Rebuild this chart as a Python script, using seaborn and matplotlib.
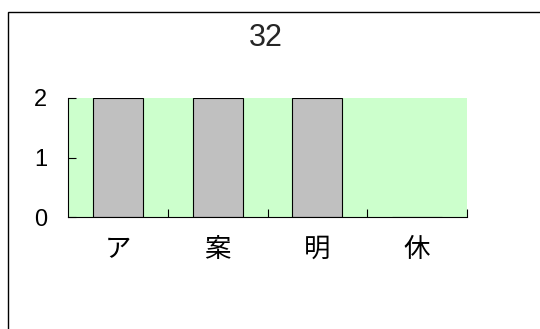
import matplotlib
import seaborn as sns
from matplotlib.patches import Rectangle

matplotlib.use("Agg")
import matplotlib.pyplot as plt

# データ
categories = ["ア", "案", "明", "休"]
values = [2, 2, 2, 0]
title = "32"
y_ticks = [0, 1, 2]

sns.set_theme(style="white")
plt.rcParams["font.family"] = ["Liberation Sans", "Noto Sans CJK JP", "DejaVu Sans"]

fig = plt.figure(figsize=(5.4, 3.29), dpi=100)
ax = fig.add_axes([68 / 540, 112 / 329, 399 / 540, 119 / 329])
ax.set_facecolor("#CCFFCC")

sns.barplot(x=categories, y=values, color="#C0C0C0", saturation=1,
            edgecolor="black", linewidth=0.8, width=0.5, ax=ax)

ax.set_xlim(-0.5, len(categories) - 0.5)
ax.set_ylim(0, 2)
ax.set_yticks(y_ticks)
ax.tick_params(axis="y", direction="in", length=6, width=0.8, color="black",
               labelsize=17, pad=15, left=True, labelcolor="black")
ax.tick_params(axis="x", which="major", length=0, labelsize=19, pad=15,
               labelcolor="black")
ax.set_xticks([i + 0.5 for i in range(len(categories))], minor=True)
ax.tick_params(axis="x", which="minor", direction="in", length=6, width=0.8,
               color="black", bottom=True)
ax.set_xlabel("")
ax.set_ylabel("")

for side in ["top", "right"]:
    ax.spines[side].set_visible(False)
for side in ["left", "bottom"]:
    ax.spines[side].set_color("black")
    ax.spines[side].set_linewidth(0.8)

fig.text(266 / 540, 1 - 38 / 329, title, ha="center", va="center", fontsize=22)

# 外枠
fig.patches.append(Rectangle((8 / 540, -0.2), 1.2, 0.2 + (329 - 12) / 329,
                             transform=fig.transFigure, fill=False,
                             edgecolor="black", linewidth=1))

fig.savefig("out.png", dpi=100)
